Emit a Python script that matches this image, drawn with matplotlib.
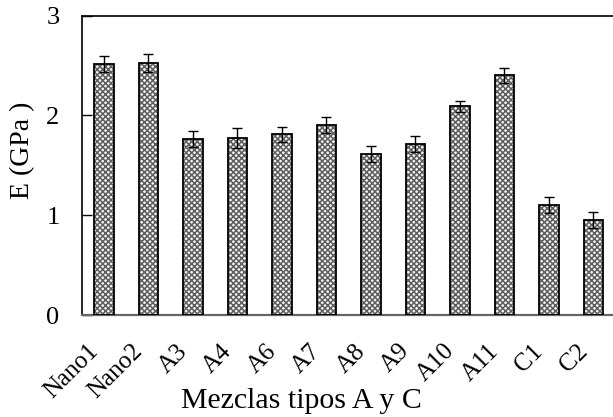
import matplotlib
matplotlib.use("Agg")
import matplotlib.pyplot as plt
import matplotlib.transforms as mtransforms
import numpy as np

categories = ["Nano1", "Nano2", "A3", "A4", "A6", "A7", "A8", "A9", "A10", "A11", "C1", "C2"]
values = [2.51, 2.52, 1.76, 1.77, 1.81, 1.90, 1.61, 1.71, 2.09, 2.40, 1.10, 0.95]
errors = [0.08, 0.09, 0.08, 0.10, 0.075, 0.08, 0.08, 0.08, 0.055, 0.077, 0.077, 0.077]
yticks = [0, 1, 2, 3]

plt.rcParams['font.family'] = ['Liberation Serif', 'DejaVu Serif']
plt.rcParams['hatch.linewidth'] = 1.1

fig = plt.figure(figsize=(6.13, 4.17), dpi=100)
W, H = 613, 417
left, right, top, bottom = 81.7, 615.7, 15.5, 315
ax = fig.add_axes([left / W, 1 - bottom / H, (right - left) / W, (bottom - top) / H])

x = np.arange(len(categories))
bw = 0.43
ax.bar(x, values, width=bw, color='#f4f4f4', edgecolor='#5e5e5e', hatch='xxxxxx', linewidth=0, zorder=2)
ax.bar(x, values, width=bw, fill=False, edgecolor='black', linewidth=1.3, zorder=3)
ax.errorbar(x, values, yerr=errors, fmt='none', ecolor='black', elinewidth=1.0, capsize=3.3, capthick=1.0, zorder=4)

ax.set_xlim(-0.5, len(categories) - 0.5)
ax.set_ylim(0, 3)
ax.set_yticks(yticks)
ax.set_yticklabels([str(t) for t in yticks], fontsize=19)
ax.tick_params(axis='y', direction='in', length=7, width=1, pad=16)
ax.set_xticks(x)
ax.set_xticklabels(categories, rotation=45, ha='right', rotation_mode='anchor', fontsize=18)
ax.tick_params(axis='x', length=0, pad=18)
offset = mtransforms.ScaledTranslation(-17 / 100, 0, fig.dpi_scale_trans)
for lbl in ax.get_xticklabels():
    lbl.set_transform(lbl.get_transform() + offset)

for s in ['top', 'left', 'right']:
    ax.spines[s].set_color('black')
    ax.spines[s].set_linewidth(1.2)
ax.spines['bottom'].set_color('#666666')
ax.spines['bottom'].set_linewidth(1.6)

ax.set_ylabel("E (GPa )", fontsize=20, va='center')
ax.yaxis.set_label_coords((23 - left) / (right - left), (bottom - 150) / (bottom - top))
ax.set_xlabel("Mezclas tipos A y C", fontsize=21.5, va='center')
ax.xaxis.set_label_coords((301 - left) / (right - left), (bottom - 401) / (bottom - top))

fig.savefig("out.png", dpi=100)
